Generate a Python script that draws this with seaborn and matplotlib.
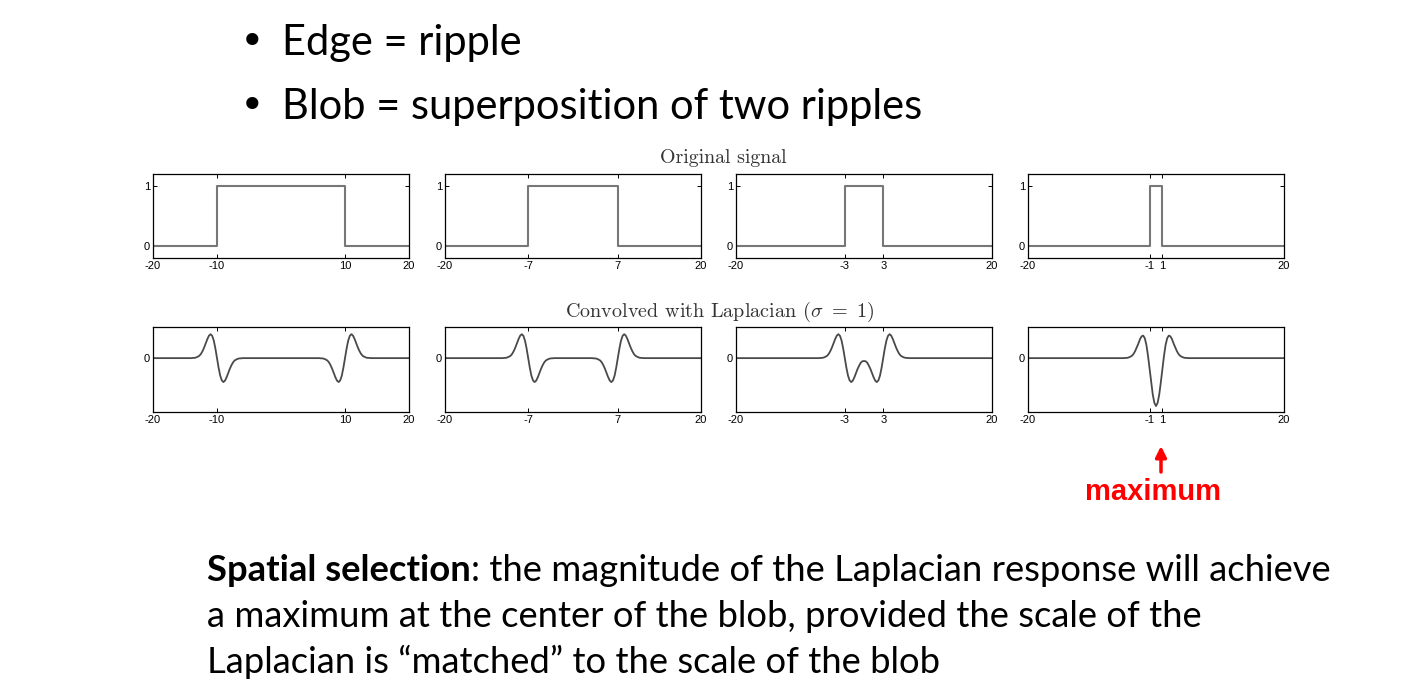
import numpy as np
import seaborn as sns
import matplotlib
matplotlib.use("Agg")
import matplotlib.pyplot as plt

# Data
half_widths = [10, 7, 3, 1]          # box signal half widths
x_limits = (-20, 20)
grid_step = 0.25
# one edge ripple (Laplacian response to a rising edge), offsets -4 .. 4 step 0.25
ripple_values = [0.00, 0.01, 0.01, 0.03, 0.06, 0.10, 0.18, 0.30, 0.45, 0.62, 0.80,
                 0.94, 1.00, 0.93, 0.73, 0.40, 0.00, -0.40, -0.73, -0.93, -1.00,
                 -0.94, -0.80, -0.62, -0.45, -0.30, -0.18, -0.10, -0.06, -0.03,
                 -0.01, -0.01, 0.00]
bullets = ["Edge = ripple", "Blob = superposition of two ripples"]
row_titles = ["Original signal", "Convolved with Laplacian ($\\sigma\\ =\\ 1$)"]
para_bold = "Spatial selection"
para_lines = [": the magnitude of the Laplacian response will achieve",
              "a maximum at the center of the blob, provided the scale of the",
              "Laplacian is \u201cmatched\u201d to the scale of the blob"]

sns.set_style("ticks")
plt.rcParams['font.family'] = ['Lato', 'DejaVu Sans']
plt.rcParams['axes.unicode_minus'] = False
plt.rcParams['mathtext.fontset'] = 'cm'
plt.rcParams['text.color'] = 'black'
plt.rcParams['xtick.color'] = 'black'
plt.rcParams['ytick.color'] = 'black'

W, H = 1404, 680
fig = plt.figure(figsize=(W / 100, H / 100), dpi=100)


def box(l, t, w, h):
    return [l / W, 1 - (t + h) / H, w / W, h / H]


x_grid = np.arange(x_limits[0], x_limits[1] + grid_step / 2, grid_step)
ripple = np.array(ripple_values)
k = len(ripple) // 2


def response(w):
    y = np.zeros_like(x_grid)
    for c, sign in ((-w, 1), (w, -1)):
        i = int(round((c - x_limits[0]) / grid_step))
        y[i - k:i + k + 1] += sign * ripple
    return y


def style_axes(ax, w, yticks):
    ax.set_xlim(*x_limits)
    ax.set_xticks([x_limits[0], -w, w, x_limits[1]])
    ax.set_xticklabels([str(v) for v in [x_limits[0], -w, w, x_limits[1]]])
    ax.set_yticks(yticks)
    ax.set_yticklabels([str(v) for v in yticks])
    ax.tick_params(direction='in', top=True, right=True, length=3, width=0.7,
                   labelsize=8, pad=2)
    for lab in ax.get_xticklabels() + ax.get_yticklabels():
        lab.set_family('Liberation Sans')
    for sp in ax.spines.values():
        sp.set_linewidth(0.9)
        sp.set_color('black')
    ax.set_xlabel('')
    ax.set_ylabel('')


lefts = [153, 445, 736, 1028]
for j, w in enumerate(half_widths):
    # original box signal
    ax = fig.add_axes(box(lefts[j], 174, 256, 84))
    sns.lineplot(x=[x_limits[0], -w, -w, w, w, x_limits[1]], y=[0, 0, 1, 1, 0, 0],
                 ax=ax, estimator=None, sort=False, color='#777777', lw=1.5)
    ax.set_ylim(-0.2, 1.2)
    style_axes(ax, w, [0, 1])

    # convolved with Laplacian
    ax = fig.add_axes(box(lefts[j], 327, 256, 85))
    sns.lineplot(x=x_grid, y=response(w), ax=ax, estimator=None, sort=False,
                 color='#4a4a4a', lw=1.3)
    ax.set_ylim(-2.25, 1.3)
    style_axes(ax, w, [0])

fig.text(723 / W, 1 - 163 / H, row_titles[0], family='cmr10', fontsize=14.3,
         color='#333333', ha='center', va='baseline')
fig.text(720 / W, 1 - 317 / H, row_titles[1], family='cmr10', fontsize=14.5,
         color='#333333', ha='center', va='baseline')

# bullets
for i, b in enumerate(bullets):
    yb = 1 - (55 + 64 * i) / H
    fig.text(240 / W, yb, "\u2022", fontsize=30, va='baseline', family='DejaVu Sans')
    fig.text(282 / W, yb, b, fontsize=30, va='baseline')

# overlay axes for annotations
ax_bg = fig.add_axes([0, 0, 1, 1])
ax_bg.axis('off')

ax_bg.annotate('', xy=(1161, H - 446), xytext=(1161, H - 472), xycoords='figure pixels',
               arrowprops=dict(arrowstyle='-|>', color='red', lw=2.5,
                               mutation_scale=16, shrinkA=0, shrinkB=0))
fig.text(1153 / W, 1 - 500 / H, "maximum", color='red', weight='bold',
         family='Liberation Sans', fontsize=21, ha='center', va='baseline')

# paragraph
fs = 26.2
t1 = fig.text(207 / W, 1 - 581 / H, para_bold, fontsize=fs, weight='bold', va='baseline')
ax_bg.annotate(para_lines[0], xy=(1, 0), xycoords=t1, fontsize=fs,
               ha='left', va='bottom')
fig.text(207 / W, 1 - 627 / H, para_lines[1], fontsize=fs, va='baseline')
fig.text(207 / W, 1 - 673 / H, para_lines[2], fontsize=fs, va='baseline')

fig.savefig("out.png", dpi=100)
